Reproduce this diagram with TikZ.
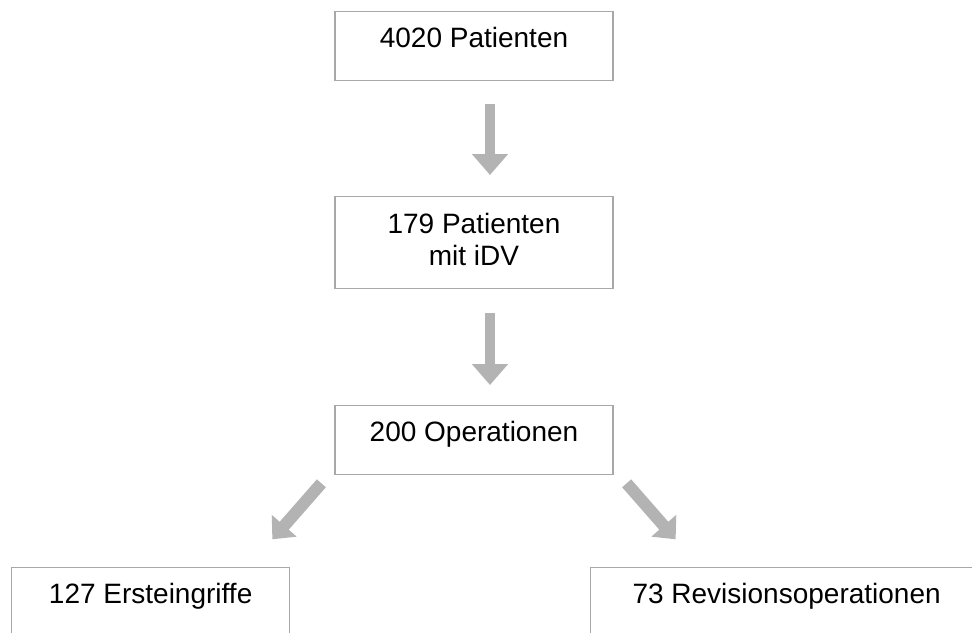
\documentclass[tikz,border=0pt]{standalone}
\usepackage{fontspec}
\setmainfont{Liberation Sans}
\usetikzlibrary{arrows.meta,calc}
\definecolor{boxgray}{HTML}{A8A8A8}
\definecolor{arrowgray}{HTML}{B3B3B3}
\begin{document}
\begin{tikzpicture}[x=1pt,y=-1pt,
  box/.style={draw=boxgray, line width=1.3pt, fill=white, minimum width=278pt,
    inner sep=0pt, text height=36pt, text depth=33pt,
    font=\fontsize{28}{32}\selectfont},
  downarrow/.style={draw=arrowgray, line width=9.5pt,
    -{Triangle[width=35pt,length=21pt]}},
  diagarrow/.style={draw=arrowgray, line width=12pt,
    -{Triangle[width=32pt,length=18pt]}}]
\useasboundingbox (0,0) rectangle (972,632);
\clip (0,0) rectangle (972,632);

\node[box, anchor=north] (a) at (474,11) {4020 Patienten};
\node[box, anchor=north, text height=37pt, text depth=55pt] (b) at (474,196)
  {\begin{tabular}[t]{@{}c@{}}179 Patienten\\mit iDV\end{tabular}};
\node[box, anchor=north] (c) at (474,405) {200 Operationen};
\node[box, anchor=north west] (l) at (11,567) {127 Ersteingriffe};
\node[box, anchor=north west, minimum width=392pt] (r) at (590,567) {73 Revisionsoperationen};

\draw[downarrow] ($(a.south)+(16,23)$) -- ($(b.north)+(16,-21)$);
\draw[downarrow] ($(b.south)+(16,24)$) -- ($(c.north)+(16,-20)$);
\draw[diagarrow] ($(c.south west)+(-13,8)$) -- ($(c.south west)+(-62,64)$);
\draw[diagarrow] ($(c.south east)+(13,8)$) -- ($(c.south east)+(62,64)$);
\end{tikzpicture}
\end{document}
